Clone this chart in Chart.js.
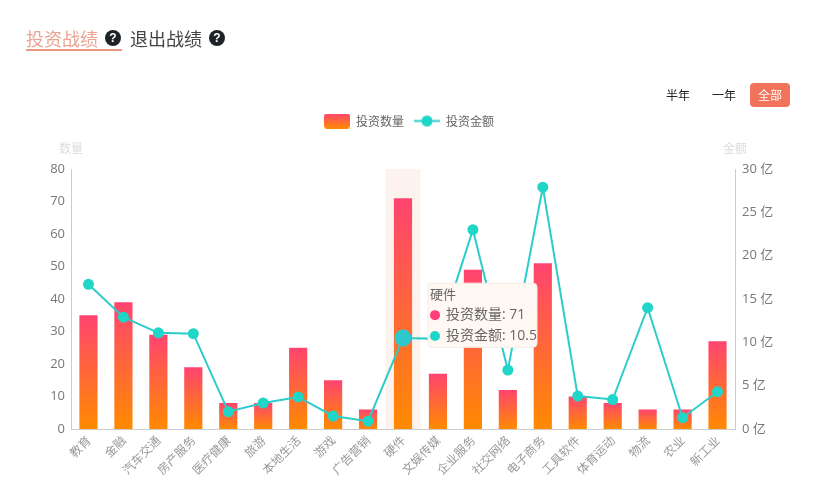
<!DOCTYPE html>
<html><head><meta charset="utf-8">
<script src="https://cdn.jsdelivr.net/npm/chart.js@4"></script>
<style>
html,body{margin:0;padding:0;background:#fff;width:818px;height:496px;overflow:hidden;font-family:"Noto Sans CJK SC","Noto Sans",sans-serif}
#wrap{position:relative;width:818px;height:496px}
canvas{position:absolute;left:0;top:0}
.t{position:absolute;white-space:nowrap;line-height:1}
.q{position:absolute;width:16px;height:16px;border-radius:50%;background:#1f2328;color:#fff;font:bold 12px/16px "Liberation Sans",sans-serif;text-align:center}
</style></head><body>
<div id="wrap">
<canvas id="c" width="818" height="496"></canvas>
<div class="t" style="left:26px;top:29px;font-size:18px;color:#e9a492">投资战绩</div>
<div style="position:absolute;left:26px;top:49px;width:96px;height:2px;background:#e79a7e"></div>
<div class="q" style="left:105px;top:30px">?</div>
<div class="t" style="left:130px;top:29px;font-size:18px;color:#444">退出战绩</div>
<div class="q" style="left:209px;top:30px">?</div>
<div class="t" style="left:666px;top:89px;font-size:12px;color:#222">半年</div>
<div class="t" style="left:712px;top:89px;font-size:12px;color:#222">一年</div>
<div class="t" style="left:750px;top:83px;width:40px;height:24px;line-height:24px;text-align:center;font-size:12px;color:#fff;background:#f0735a;border-radius:4px">全部</div>
<div class="t" style="left:59px;top:142px;font-size:12px;color:#dcdcdc">数量</div>
<div class="t" style="left:723px;top:142px;font-size:12px;color:#dcdcdc">金额</div>
</div>
<script>
const categories = ["教育","金融","汽车交通","房产服务","医疗健康","旅游","本地生活","游戏","广告营销","硬件","文娱传媒","企业服务","社交网络","电子商务","工具软件","体育运动","物流","农业","新工业"];
const investCount = [35,39,29,19,8,8,25,15,6,71,17,49,12,51,10,8,6,6,27];
const investAmount = [16.7,12.9,11.1,11.0,2.0,3.0,3.7,1.5,0.9,10.5,10.4,23,6.8,27.9,3.8,3.4,14,1.3,4.3];
const seriesNames = ["投资数量","投资金额"];
const activeIndex = 9;

const latinFirst = '"Open Sans","Noto Sans CJK SC",sans-serif';
Chart.defaults.font.family = '"Noto Sans CJK SC","Noto Sans",sans-serif';
Chart.defaults.animation = false;

function barFill(ctx){
  const el = ctx.element, c = ctx.chart.ctx;
  if(!el || !ctx.chart.chartArea) return '#ff4a6d';
  const top = el.y, base = el.base;
  if(!isFinite(top) || !isFinite(base)) return '#ff4a6d';
  const g = c.createLinearGradient(0, top, 0, base);
  g.addColorStop(0,'#ff4470');
  g.addColorStop(1,'#ff8a00');
  return g;
}
function legendBar(){
  const k = document.createElement('canvas'); k.width=26; k.height=15;
  const x = k.getContext('2d');
  const g = x.createLinearGradient(0,0,0,15);
  g.addColorStop(0,'#ff4470'); g.addColorStop(1,'#ff8a00');
  x.fillStyle=g; x.beginPath(); x.roundRect(0,0,26,15,3); x.fill();
  return k;
}
function legendLine(){
  const k = document.createElement('canvas'); k.width=26; k.height=15;
  const x = k.getContext('2d');
  x.strokeStyle='#2ccccb'; x.lineWidth=2;
  x.beginPath(); x.moveTo(0,7.5); x.lineTo(26,7.5); x.stroke();
  x.fillStyle='#1fd6c8'; x.beginPath(); x.arc(13,7.5,5.5,0,Math.PI*2); x.fill();
  return k;
}
const legendIcons = [legendBar(), legendLine()];

Chart.Tooltip.positioners.besideActive = function(items){
  if(!items.length) return false;
  return {x: items[0].element.x + 25, y: this.chart.scales.y.getPixelForValue(investCount[activeIndex]) + 117};
};

const bandPlugin = {
  id:'band',
  beforeDatasetsDraw(chart){
    const s = chart.scales.x, a = chart.chartArea, c = chart.ctx;
    const w = s.getPixelForValue(1) - s.getPixelForValue(0);
    c.save(); c.fillStyle='#fdf3ee';
    c.fillRect(s.getPixelForValue(activeIndex)-w/2, a.top, w, a.bottom-a.top);
    c.restore();
  }
};
const legendGapPlugin = {
  id:'legendGap',
  beforeInit(chart){
    const fit = chart.legend.fit;
    chart.legend.fit = function(){ fit.call(this); this.height += 32; };
  }
};

const chart = new Chart(document.getElementById('c'),{
  plugins:[bandPlugin,legendGapPlugin],
  data:{
    labels:categories,
    datasets:[
      {type:'bar',label:seriesNames[0],data:investCount,yAxisID:'y',order:2,
       backgroundColor:barFill,hoverBackgroundColor:barFill,barPercentage:0.52,categoryPercentage:1},
      {type:'line',label:seriesNames[1],data:investAmount,yAxisID:'y1',order:1,
       borderColor:'#2ccccb',borderWidth:2,tension:0,pointRadius:5.5,pointHoverRadius:8.5,
       pointBackgroundColor:'#1fd6c8',pointBorderWidth:0,pointHoverBorderWidth:0,
       pointHoverBackgroundColor:'#2cc8cc'}
    ]
  },
  options:{
    responsive:false,
    devicePixelRatio:1,
    layout:{padding:{top:105,left:0,right:0,bottom:0}},
    scales:{
      x:{grid:{display:false,drawTicks:false},border:{color:'#ccc'},
         ticks:{color:'#999',font:{size:12},minRotation:45,maxRotation:45,autoSkip:false,padding:4},
         afterFit(s){s.height=67;}},
      y:{position:'left',min:0,max:80,grid:{display:false,drawTicks:false},border:{color:'#ccc'},
         ticks:{stepSize:10,color:'#777',font:{size:13,family:latinFirst},padding:6},
         afterFit(s){s.width=71;}},
      y1:{position:'right',min:0,max:30,grid:{display:false,drawTicks:false},border:{color:'#ccc'},
         ticks:{stepSize:5,color:'#777',font:{size:13,family:latinFirst},padding:7,callback:v=>v+' 亿'},
         afterFit(s){s.width=83;}}
    },
    plugins:{
      legend:{position:'top',labels:{usePointStyle:true,pointStyleWidth:26,color:'#666',font:{size:12},padding:10,
        generateLabels(ch){
          return ch.data.datasets.map((d,i)=>({text:d.label,datasetIndex:i,pointStyle:legendIcons[i],fontColor:'#666',lineWidth:0,strokeStyle:'transparent',fillStyle:'transparent'}));
        }}},
      tooltip:{enabled:true,mode:'index',intersect:false,position:'besideActive',xAlign:'left',yAlign:'center',
        backgroundColor:'#fff8f3',titleColor:'#666',bodyColor:'#666',
        titleFont:{size:13,weight:'normal'},bodyFont:{size:14,family:latinFirst},caretSize:0,caretPadding:0,cornerRadius:4,
        padding:{left:2,right:0,top:3,bottom:3},titleMarginBottom:5,bodySpacing:4,
        borderColor:'#f3ece6',borderWidth:1,usePointStyle:true,boxWidth:10,boxHeight:10,boxPadding:4,
        multiKeyBackground:'transparent',
        callbacks:{
          labelColor(it){return {backgroundColor:it.datasetIndex===0?'#ff3f78':'#1fd6c8',borderColor:'transparent',borderWidth:0};},
          labelPointStyle(){return {pointStyle:'circle',rotation:0};}
        }}
    }
  }
});
const act=[{datasetIndex:0,index:activeIndex},{datasetIndex:1,index:activeIndex}];
chart.setActiveElements(act);
chart.tooltip.setActiveElements(act,{x:chart.scales.x.getPixelForValue(activeIndex),y:300});
chart.update('none');
</script>
</body></html>
